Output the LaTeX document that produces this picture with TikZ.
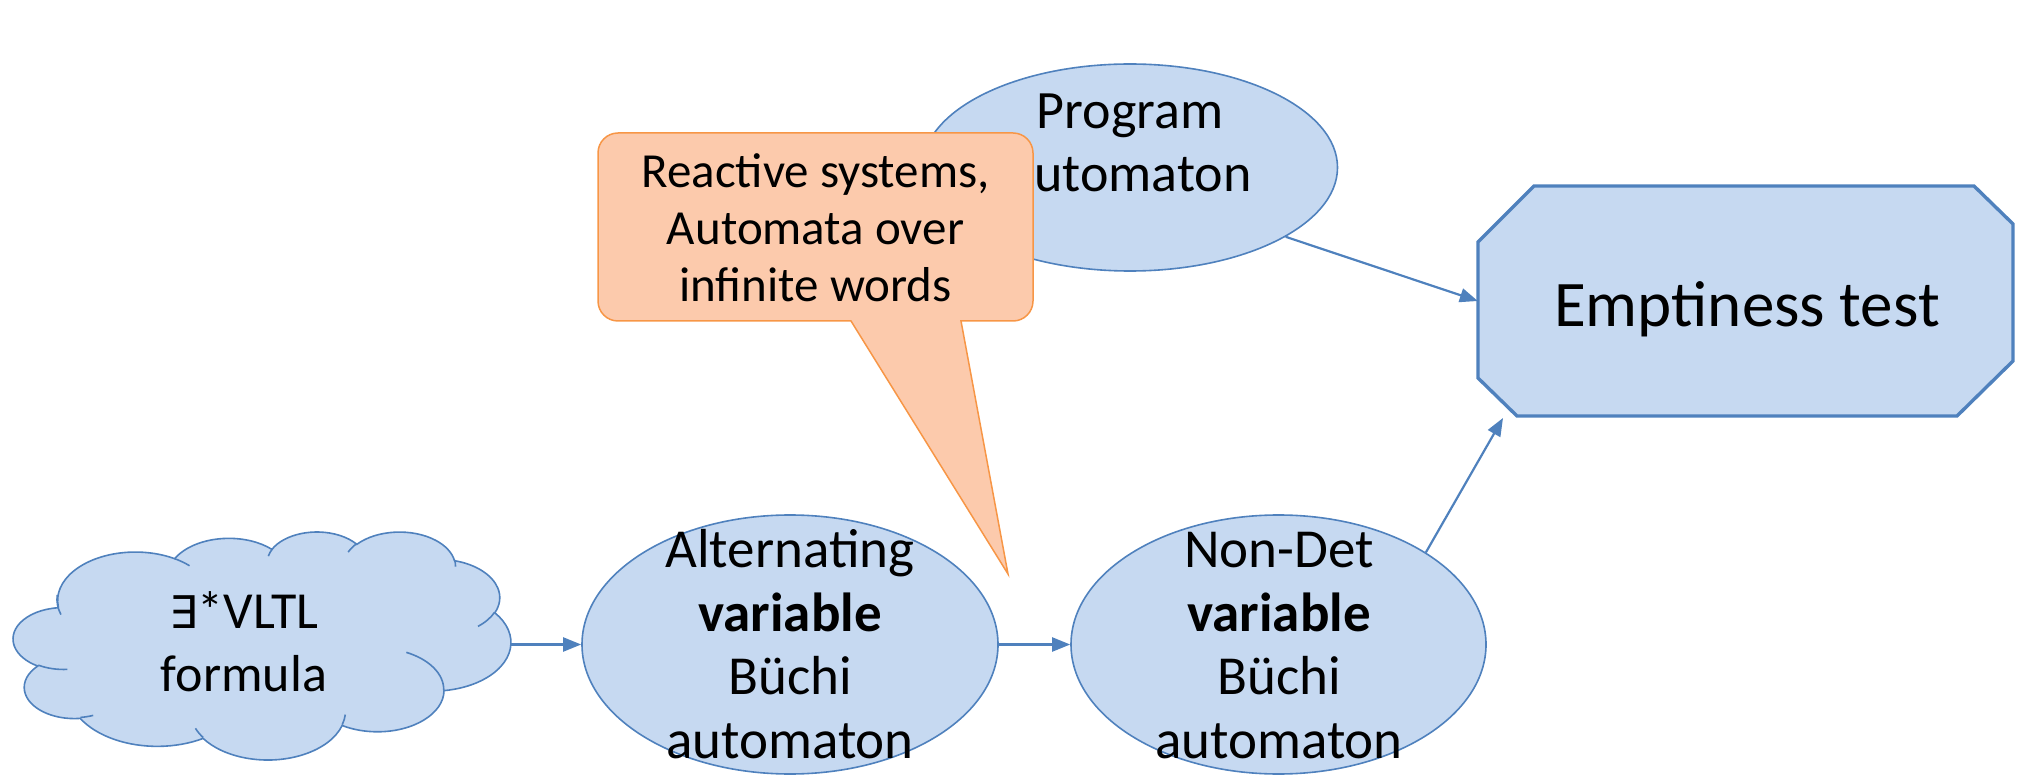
\documentclass[tikz,border=0pt]{standalone}
\usepackage{fontspec}
\setmainfont{Carlito}
\newfontfamily\symfont{DejaVu Sans}
\usetikzlibrary{arrows.meta,shapes.geometric}

\definecolor{boxfill}{RGB}{198,217,241}
\definecolor{boxline}{RGB}{79,129,189}
\definecolor{notefill}{RGB}{252,202,172}
\definecolor{noteline}{RGB}{247,150,70}

\tikzset{
  ell/.style={ellipse, fill=boxfill, draw=boxline, line width=1.6pt, inner sep=0pt},
  cloudsty/.style={fill=boxfill, draw=boxline, line width=1.6pt},
  cloudline/.style={draw=boxline, line width=1.6pt},
  octsty/.style={fill=boxfill, draw=boxline, line width=3.4pt, line join=miter},
  notesty/.style={fill=notefill, draw=noteline, line width=1.5pt},
  conn/.style={draw=boxline, line width=2.2pt, -{Triangle[length=18pt,width=14pt]}},
  txt/.style={inner sep=0pt, align=center, text=black},
}

\begin{document}
\begin{tikzpicture}[x=1pt,y=-1pt]
\useasboundingbox (0,0) rectangle (2022,775);

% Program automaton
\node[ell, minimum width=415pt, minimum height=207pt] (prog) at (1130,167.5) {};
\node[txt, font=\fontsize{54}{63}\selectfont] (progT) at (1130,142.5) {Program\\automaton};

% Callout with pointer
\draw[notesty] (618,133) -- (1013,133)
  arc[start angle=90, end angle=0, radius=20pt] -- (1033,301)
  arc[start angle=0, end angle=-90, radius=20pt] -- (961,321)
  -- (1008,574) -- (851,321) -- (618,321)
  arc[start angle=270, end angle=180, radius=20pt] -- (598,153)
  arc[start angle=180, end angle=90, radius=20pt] -- cycle;
\node[txt, font=\fontsize{49}{57}\selectfont] (noteT) at (815.5,227.5)
  {Reactive systems,\\Automata over\\infinite words};

% Emptiness test (octagon)
\node[inner sep=0pt, minimum width=535pt, minimum height=230pt] (empt) at (1745.5,301) {};
\draw[octsty] (1534,186) -- (1974,186) -- (2013,224) -- (2013,361) -- (1957,416)
  -- (1517,416) -- (1478,378) -- (1478,242) -- cycle;
\node[txt, font=\fontsize{65}{78}\selectfont] (emptT) at (1747,309.5) {Emptiness test};

% Cloud outline
\draw[cloudsty] (58.34,607.08)
  arc[start angle=-172.25, delta angle=-128.11, x radius=77.74pt, y radius=48.49pt]
  arc[start angle=152.03, delta angle=-106.59, x radius=61.39pt, y radius=38.34pt]
  arc[start angle=153.49, delta angle=-116.17, x radius=50.25pt, y radius=31.37pt]
  arc[start angle=139.69, delta angle=-129.48, x radius=55.91pt, y radius=34.80pt]
  arc[start angle=74.77, delta angle=-97.98, x radius=61.39pt, y radius=38.37pt]
  arc[start angle=37.53, delta angle=-119.39, x radius=77.99pt, y radius=48.64pt]
  arc[start angle=-0.46, delta angle=-121.52, x radius=66.60pt, y radius=41.51pt]
  arc[start angle=-16.85, delta angle=-129.39, x radius=77.73pt, y radius=48.62pt]
  arc[start angle=-58.99, delta angle=-91.21, x radius=88.87pt, y radius=55.62pt]
  arc[start angle=-83.31, delta angle=-139.80, x radius=50.19pt, y radius=31.22pt]
  arc[start angle=-120.36, delta angle=-143.75, x radius=50.02pt, y radius=31.37pt]
  -- cycle;
% Cloud inner folds
\draw[cloudline]
  (67.47,669.37) arc[start angle=-85.55, delta angle=-34.81, x radius=50.02pt, y radius=31.37pt]
  (93.20,715.39) arc[start angle=-68.23, delta angle=-15.08, x radius=50.19pt, y radius=31.22pt]
  (203.13,737.50) arc[start angle=-146.24, delta angle=-12.23, x radius=77.73pt, y radius=48.62pt]
  (345.30,714.61) arc[start angle=-4.74, delta angle=-12.11, x radius=77.73pt, y radius=48.62pt]
  (406.33,652.37) arc[start angle=64.03, delta angle=-64.49, x radius=66.60pt, y radius=41.51pt]
  (494.62,612.27) arc[start angle=-23.21, delta angle=-26.42, x radius=61.39pt, y radius=38.37pt]
  (454.63,559.89) arc[start angle=10.21, delta angle=-11.03, x radius=55.91pt, y radius=34.80pt]
  (348.19,552.11) arc[start angle=156.29, delta angle=-16.6, x radius=55.91pt, y radius=34.80pt]
  (268.33,556.16) arc[start angle=167.72, delta angle=-14.23, x radius=50.25pt, y radius=31.37pt]
  (174.61,558.65) arc[start angle=59.64, delta angle=-13.9, x radius=77.74pt, y radius=48.49pt]
  (60.95,614.56) arc[start angle=-161.60, delta angle=-23.64, x radius=77.74pt, y radius=48.49pt];
\node[txt, font=\fontsize{52}{63}\selectfont] (cloudT) at (244,642)
  {{\symfont\fontsize{45}{63}\selectfont ∃}*VLTL\\formula};
\coordinate (cloudE) at (511,644.5);

% Alternating and non-deterministic automata
\node[ell, minimum width=416pt, minimum height=259pt] (alt) at (790,644.5) {};
\node[txt, font=\fontsize{55}{63.5}\selectfont] (altT) at (790,644)
  {Alternating\\\textbf{variable}\\Büchi\\automaton};
\node[ell, minimum width=415pt, minimum height=259pt] (nondet) at (1278.5,644.5) {};
\node[txt, font=\fontsize{55}{63.5}\selectfont] (nondetT) at (1279,645.5)
  {Non-Det\\\textbf{variable}\\Büchi\\automaton};

% Connectors
\coordinate (emptSW) at (1503,418);
\draw[conn] (cloudE) -- (alt.west);
\draw[conn] (alt.east) -- (nondet.west);
\draw[conn] (prog.-24) -- (empt.west);
\draw[conn] (nondet.32) -- (emptSW);
\end{tikzpicture}
\end{document}
